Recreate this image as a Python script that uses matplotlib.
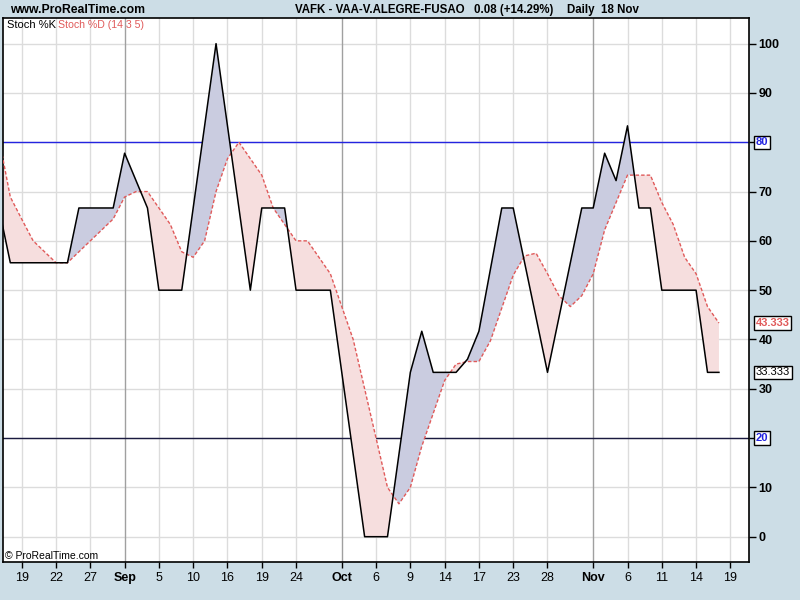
import numpy as np
import matplotlib
matplotlib.use('Agg')
import matplotlib.pyplot as plt

plt.rcParams['font.family'] = ['Liberation Sans', 'DejaVu Sans']

# trading-day index (0 = 19 Aug); data ends at bar 61 (18 Nov)
bars = np.arange(-2, 62)

stoch_k = [66.67, 55.56,
           55.56, 55.56, 55.56, 55.56, 55.56, 66.67, 66.67, 66.67, 66.67, 77.78,
           72.22, 66.67, 50.0, 50.0, 50.0, 66.67, 83.33, 100.0, 83.33, 66.67,
           50.0, 66.67, 66.67, 66.67, 50.0, 50.0, 50.0, 50.0, 33.33, 16.67,
           0.0, 0.0, 0.0, 16.67, 33.33, 41.67, 33.33, 33.33, 33.33, 36.0,
           41.67, 54.17, 66.67, 66.67, 55.56, 44.44, 33.33, 44.44, 55.56, 66.67,
           66.67, 77.78, 72.22, 83.33, 66.67, 66.67, 50.0, 50.0, 50.0, 50.0,
           33.33, 33.33]

stoch_d = [80.9, 68.9,
           64.4, 60.0, 57.78, 55.56, 55.56, 57.78, 60.0, 62.22, 64.44, 68.89,
           70.0, 70.0, 66.67, 63.33, 57.78, 56.67, 60.0, 70.0, 76.67, 80.0,
           76.67, 73.33, 66.67, 63.33, 60.0, 60.0, 56.67, 53.33, 46.67, 40.0,
           30.0, 20.0, 10.0, 6.67, 10.0, 18.33, 25.0, 31.67, 35.0, 35.53,
           35.53, 39.7, 46.37, 53.03, 56.95, 57.5, 53.33, 48.89, 46.67, 48.89,
           53.33, 62.22, 67.78, 73.33, 73.33, 73.33, 67.78, 63.33, 56.67, 53.33,
           46.67, 43.33]

tick_bars = [0, 3, 6, 9, 12, 15, 18, 21, 24, 28, 31, 34, 37, 40, 43, 46,
             50, 53, 56, 59, 62]
tick_labels = ['19', '22', '27', 'Sep', '5', '10', '16', '19', '24', 'Oct',
               '6', '9', '14', '17', '23', '28', 'Nov', '6', '11', '14', '19']
month_labels = ['Sep', 'Oct', 'Nov']

bg = '#ccdde6'
k = np.array(stoch_k)
d = np.array(stoch_d)

fig = plt.figure(figsize=(8, 6), dpi=100, facecolor=bg)
ax = fig.add_axes([3 / 800, 38 / 600, 746 / 800, 544 / 600])
ax.set_facecolor('white')

# grid
for yv in range(0, 101, 10):
    ax.axhline(yv, color='#dcdcdc', lw=1, zorder=0)
for b, lab in zip(tick_bars, tick_labels):
    ax.axvline(b, color='#a0a0a0' if lab in month_labels else '#dcdcdc',
               lw=1, zorder=0)

ax.axhline(80, color='#2424e0', lw=1, zorder=1)
ax.axhline(20, color='#1a1a40', lw=1, zorder=1)

ax.fill_between(bars, k, d, where=k >= d, interpolate=True,
                color='#cacce0', lw=0, zorder=2)
ax.fill_between(bars, k, d, where=k < d, interpolate=True,
                color='#f6dede', lw=0, zorder=2)
ax.plot(bars, d, color='#e05a5a', lw=1, ls=(0, (2.5, 1.5)), zorder=3)
ax.plot(bars, k, color='black', lw=1.1, zorder=4)

ax.set_xlim(-1.64, 63.63)
ax.set_ylim(-5.13, 105.2)

for s in ax.spines.values():
    s.set_color('black')
    s.set_linewidth(1.2)

ax.yaxis.tick_right()
ax.set_yticks(range(0, 101, 10))
ax.set_yticklabels(['' if v in (20, 80) else str(v) for v in range(0, 101, 10)],
                   fontweight='bold', fontsize=9)
ax.tick_params(axis='y', direction='out', length=5, width=1, pad=2)

ax.set_xticks(tick_bars)
ax.set_xticklabels(tick_labels, fontsize=9)
for t in ax.get_xticklabels():
    if t.get_text() in month_labels:
        t.set_fontweight('bold')
ax.tick_params(axis='x', direction='out', length=4, width=1, pad=3)

# boxed labels on the right axis
tr = ax.get_yaxis_transform()
boxes = [(80, '80', '#2424e0'), (20, '20', '#2424e0'),
         (stoch_d[-1], '%.3f' % 43.333, '#e05a5a'),
         (stoch_k[-1], '%.3f' % 33.333, 'black')]
for yv, txt, col in boxes:
    ax.text(1.009, yv, txt, transform=tr, ha='left', va='center',
            fontsize=8, color=col, fontweight='bold' if col != 'black' else 'normal',
            bbox=dict(boxstyle='square,pad=0.15', fc='white', ec='black', lw=1),
            clip_on=False)

# header / legend texts
fig.text(10 / 800, 1 - 10 / 600, 'www.ProRealTime.com', fontsize=8.8,
         fontweight='bold', va='center', ha='left')
fig.text(295 / 800, 1 - 10 / 600, 'VAFK - VAA-V.ALEGRE-FUSAO', fontsize=8.3,
         fontweight='bold', va='center', ha='left')
fig.text(474 / 800, 1 - 10 / 600, '0.08 (+14.29%)', fontsize=8.3,
         fontweight='bold', va='center', ha='left')
fig.text(567 / 800, 1 - 10 / 600, 'Daily  18 Nov', fontsize=8.3,
         fontweight='bold', va='center', ha='left')
fig.text(7 / 800, 1 - 25 / 600, 'Stoch %K', fontsize=8, va='center', ha='left')
fig.text(58 / 800, 1 - 25 / 600, 'Stoch %D (14 3 5)', fontsize=7.6,
         color='#e05a5a', va='center', ha='left')
fig.text(5 / 800, 1 - 556 / 600, '\u00a9 ProRealTime.com', fontsize=7.5,
         va='center', ha='left')

fig.savefig('out.png', dpi=100, facecolor=bg)
